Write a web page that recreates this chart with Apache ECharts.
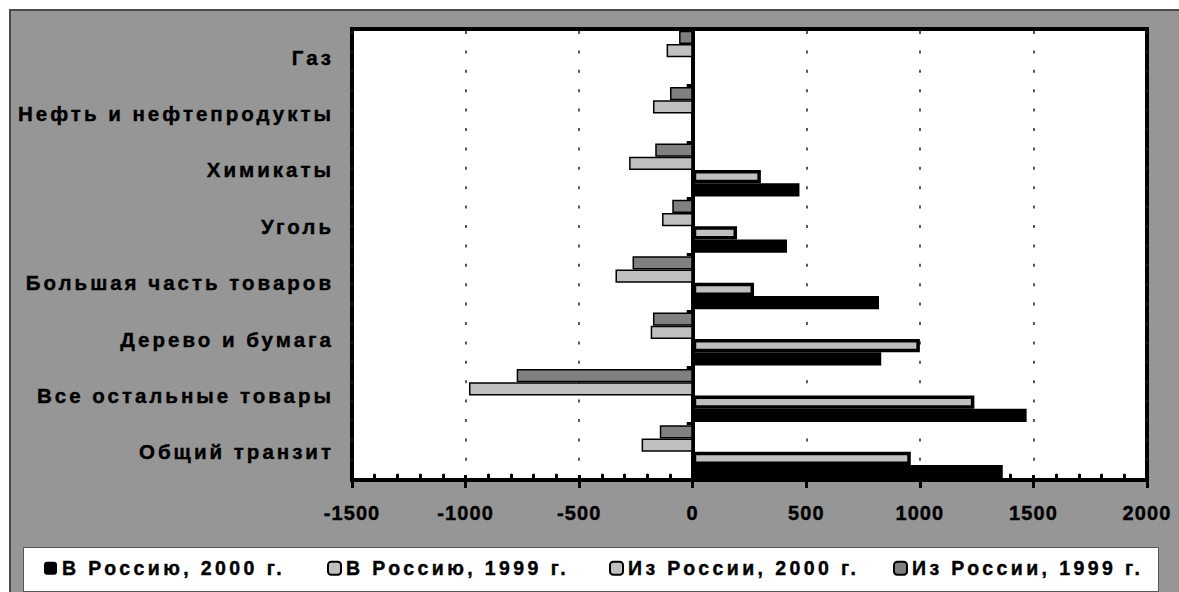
<!DOCTYPE html>
<html>
<head>
<meta charset="utf-8">
<script src="https://cdn.jsdelivr.net/npm/echarts@6/dist/echarts.min.js"></script>
<style>
  html, body { margin: 0; padding: 0; background: #fff; }
  #panel {
    position: absolute; left: 9px; top: 9px; width: 1170px; height: 583px;
    background: #969696; border-left: 2px solid #4a4a4a; border-top: 2px solid #4a4a4a;
    box-sizing: border-box;
  }
  #chart { position: absolute; left: 0; top: 0; width: 1179px; height: 592px; }
  /* widened tracking of the bold labels */
  #chart text[style*="20.5px"] { letter-spacing: 3px; }
  #chart text[style*="20px"] { letter-spacing: 1.1px; }
  #chart text[style*="19.5px"] { letter-spacing: 3.4px; }
</style>
</head>
<body>
<div id="panel"></div>
<div id="chart"></div>
<script>
// Categories, top to bottom
const categories = [
  'Газ',
  'Нефть и нефтепродукты',
  'Химикаты',
  'Уголь',
  'Большая часть товаров',
  'Дерево и бумага',
  'Все остальные товары',
  'Общий транзит'
];

// Flows to Russia (positive) and from Russia (negative)
const toRussia2000   = [null, null, 470, 415, 820,  830, 1470, 1365];
const toRussia1999   = [null, null, 300, 195, 270, 1000, 1240,  960];
const fromRussia2000 = [-115, -175, -280, -135, -340, -185, -985, -225];
const fromRussia1999 = [ -60, -100, -165,  -90, -265, -175, -775, -145];

const seriesNames = ['В Россию, 2000 г.', 'В Россию, 1999 г.', 'Из России, 2000 г.', 'Из России, 1999 г.'];

const xMin = -1500, xMax = 2000, xStep = 500;

const FONT = '"Liberation Sans", Arial, sans-serif';

// heavy bold text: a thin outline in the text colour
const heavy = { fontWeight: 'bold', color: '#000', fontFamily: FONT, textBorderColor: '#000', textBorderWidth: 0.4 };

const chart = echarts.init(document.getElementById('chart'), null, { renderer: 'svg' });

function barSeries(name, data, fill, borderWidth) {
  return {
    name: name,
    type: 'bar',
    data: data,
    xAxisIndex: 0,
    barGap: '0%',
    barCategoryGap: '6%',
    itemStyle: { color: fill, borderColor: '#000', borderWidth: borderWidth },
    emphasis: { disabled: true },
    animation: false
  };
}

const legendLeft = [44, 327, 609, 893];

chart.setOption({
  animation: false,
  backgroundColor: 'transparent',
  grid: {
    left: 352, right: 32, top: 29, bottom: 112,
    containLabel: false, outerBoundsMode: 'none',
    show: true, backgroundColor: '#fff', borderColor: '#000', borderWidth: 4
  },
  graphic: [{
    type: 'rect', z: 0,
    shape: { x: 23.5, y: 547.5, width: 1135, height: 44 },
    style: { fill: '#fff', stroke: '#555', lineWidth: 1 }
  }],
  legend: seriesNames.map((n, i) => ({
    data: [n],
    left: legendLeft[i], top: 558,
    padding: 0, itemGap: 0, itemWidth: 13, itemHeight: 13,
    selectedMode: false,
    textStyle: Object.assign({ fontSize: 19.5 }, heavy)
  })),
  xAxis: [{
    type: 'value', min: xMin, max: xMax, interval: xStep, position: 'bottom',
    axisLine: { onZero: false, lineStyle: { color: '#000', width: 4 } },
    axisTick: { show: true, length: 8, lineStyle: { color: '#000', width: 3 } },
    axisLabel: Object.assign({ margin: 23, fontSize: 20, formatter: v => String(v) }, heavy),
    splitLine: { show: true, lineStyle: { color: '#222', width: 1.5, type: [3, 16.4], dashOffset: -2 } }
  }, {
    type: 'value', min: xMin, max: xMax, interval: xStep, position: 'bottom',
    axisLine: { show: false, onZero: false },
    axisLabel: { show: false },
    splitLine: { show: false },
    axisTick: { show: true, inside: true, length: 5, lineStyle: { color: '#000', width: 3 } },
    minorTick: { show: true, splitNumber: 5, length: 5, lineStyle: { color: '#000', width: 3, cap: 'round' } }
  }],
  yAxis: {
    type: 'category', data: categories, inverse: true,
    axisLine: { onZero: true, lineStyle: { color: '#000', width: 4 } },
    axisTick: { show: true, length: 6, lineStyle: { color: '#000', width: 3 } },
    axisLabel: Object.assign({ margin: 18, fontSize: 20.5 }, heavy),
    splitLine: { show: false }
  },
  series: [
    barSeries(seriesNames[3], fromRussia1999, '#808080', 1.5),
    barSeries(seriesNames[2], fromRussia2000, '#c0c0c0', 1.5),
    barSeries(seriesNames[1], toRussia1999, '#c0c0c0', 3.5),
    barSeries(seriesNames[0], toRussia2000, '#000', 0)
  ]
});
</script>
</body>
</html>
